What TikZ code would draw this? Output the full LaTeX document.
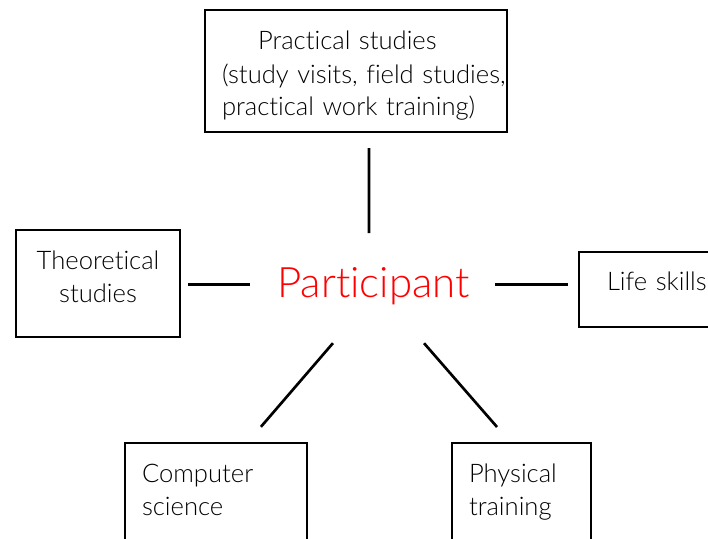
\documentclass[tikz,border=0pt]{standalone}
\usepackage{fontspec}
\IfFontExistsTF{Lato Light}{\setmainfont{Lato Light}[Ligatures=NoCommon]}{\setmainfont{Lato}[Ligatures=NoCommon]}
\usepackage{tikz}

\begin{document}
\begin{tikzpicture}[x=0.75pt, y=-0.75pt,
    topic/.style={draw, line width=0.8pt, inner xsep=1.5pt, inner ysep=0pt, outer sep=0pt,
        anchor=base west, align=left, font=\fontsize{19.2pt}{24.75pt}\selectfont},
    hub/.style={text=red, inner sep=0pt, anchor=base, text height=18.75pt, text depth=0pt,
        font=\fontsize{31.5pt}{33pt}\selectfont},
    link/.style={line width=2pt}]
\useasboundingbox (0,0) rectangle (708,539);
\clip (0,0) rectangle (708,539);

    \node[hub] (participant) at (373.5,297) {Participant};

    \node[topic, text width=223.5pt, text height=30pt, text depth=61.5pt] (practical) at (205,50)
        {\hspace*{38.25pt}\mbox{Practical studies}\\\hspace*{11.25pt}\mbox{(study visits, field studies,}\\\hspace*{11.25pt}\mbox{practical work training)}};
    \node[topic, text width=120pt, align=center, text height=29.25pt, text depth=51pt] (theoretical) at (16,269)
        {Theoretical\\studies};
    \node[topic, text width=99.75pt, text height=28.5pt, text depth=27.75pt] (life) at (579,290)
        {\hspace*{19.5pt}\mbox{Life skills}};
    \node[topic, text width=133.5pt, text height=29.25pt, text depth=58.5pt] (computer) at (125,482)
        {\hspace*{11.25pt}Computer\\\hspace*{11.25pt}science};
    \node[topic, text width=101.25pt, text height=29.25pt, text depth=58.5pt] (physical) at (452,482)
        {\hspace*{11.25pt}Physical\\\hspace*{11.25pt}training};

    % spokes from the participant
    \draw[link, shorten <=38.6pt, shorten >=12pt] ([xshift=-3.4pt]participant.center) -- ([xshift=9.75pt]practical.south);
    \draw[link, shorten <=92.6pt, shorten >=6pt] (participant.center) -- (participant.center -| theoretical.east);
    \draw[link, shorten <=91.1pt, shorten >=8.25pt] (participant.center) -- (participant.center -| life.west);
    \draw[link, shorten <=45.4pt, shorten >=16pt] ([xshift=-0.8pt]participant.south) -- ([xshift=23.25pt]computer.north);
    \draw[link, shorten <=45.7pt, shorten >=15.9pt] ([xshift=7.9pt]participant.south) -- ([xshift=-7.9pt]physical.north);

\end{tikzpicture}
\end{document}
